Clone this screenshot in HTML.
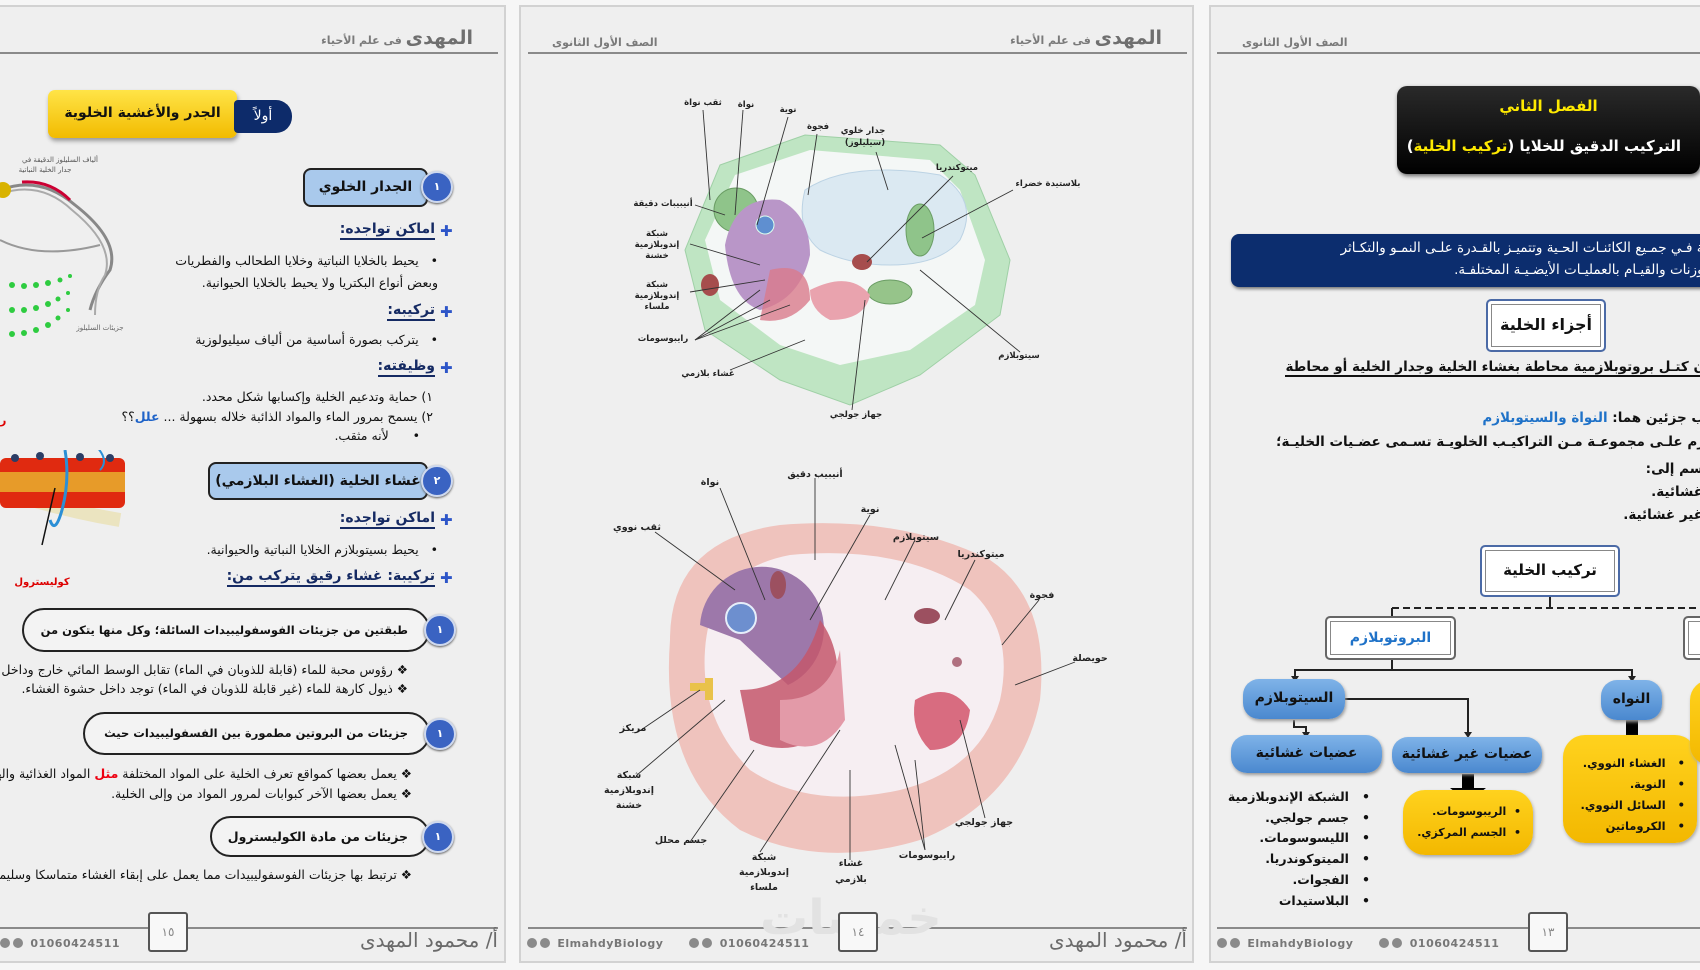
<!DOCTYPE html>
<html lang="ar"><head><meta charset="utf-8">
<style>
*{margin:0;padding:0;box-sizing:border-box}
body{width:1700px;height:970px;overflow:hidden;background:#f6f6f6;position:relative;font-family:"DejaVu Sans","Liberation Sans",sans-serif;color:#111}
.pg{position:absolute;top:5px;height:958px;background:#efefef;border:2px solid #d2d2d2;overflow:hidden}
.a{position:absolute;white-space:nowrap}
.r{direction:rtl;text-align:right}
.hl{position:absolute;height:2px;background:#8a8a8a}
.hd{font-size:11px;color:#7a7a7a;font-weight:bold}
.hd b{font-size:19px;color:#6f6f6f}
.ft{font-size:20px;color:#6a6a6a}
.ph{font-size:11px;color:#777;font-weight:bold;letter-spacing:.5px;direction:ltr}
.ph i{display:inline-block;width:10px;height:10px;border-radius:50%;background:#8a8a8a;margin-right:3px;vertical-align:-1px}
.pn{position:absolute;width:40px;height:40px;border:2px solid #555;background:#f8f8f8;border-radius:3px;font-size:12px;color:#888;text-align:center;line-height:36px}
.bb{position:absolute;background:#a9c9ec;border:2px solid #222;border-radius:8px;font-size:14px;font-weight:bold;text-align:center;direction:rtl;white-space:nowrap}
.cir{position:absolute;width:32px;height:32px;border-radius:50%;background:#3a63c2;border:2px solid #cfd9ee;color:#fff;font-size:11px;text-align:center;line-height:28px;font-weight:bold;box-shadow:0 1px 2px #555}
.hh{font-size:14px;font-weight:bold;color:#152a63;border-bottom:2px solid #152a63;direction:rtl;padding-bottom:1px}
.plus{position:absolute;color:#2d55c8;font-size:15px;font-weight:bold}
.tx{font-size:12.5px;direction:rtl;text-align:right}
.pill{position:absolute;border:2px solid #222;border-radius:24px;background:#f3f3f3;font-size:11.5px;font-weight:bold;direction:rtl;text-align:right;padding-right:20px;white-space:nowrap;overflow:hidden}
.bp{position:absolute;background:linear-gradient(#7fb3e8,#4a88cf);border-radius:16px;color:#111;font-weight:bold;font-size:14px;text-align:center;direction:rtl;box-shadow:1px 2px 3px #999;white-space:nowrap}
.yb{position:absolute;background:linear-gradient(#ffd21e,#f3b800);border-radius:22px;box-shadow:1px 2px 3px #aaa;font-size:11.5px;font-weight:bold;direction:rtl;white-space:nowrap}
.wb{position:absolute;background:#fff;border:2px solid #4b6aa6;border-radius:5px;box-shadow:inset 0 0 0 3px #fff,inset 0 0 0 4px #888;font-weight:bold;text-align:center;direction:rtl;white-space:nowrap}
</style></head><body>

<!-- PAGE 1 -->
<div class="pg" style="left:-10px;width:516px"></div>
<div class="a r hd" style="right:1227px;top:27px"><b>المهدى</b> فى علم الأحياء</div>
<div class="hl" style="left:0;width:498px;top:52px"></div>

<div class="a" style="left:48px;top:90px;width:189px;height:48px;background:linear-gradient(#ffe447,#f2bb00);border-radius:7px;box-shadow:1px 3px 4px #999;font-size:14px;font-weight:bold;text-align:center;line-height:46px;direction:rtl">الجدر والأغشية الخلوية</div>
<div class="a" style="left:234px;top:100px;width:58px;height:33px;background:#0d2b6a;border-radius:4px 16px 16px 4px;color:#fff;font-size:14px;text-align:center;line-height:32px">أولاً</div>

<svg class="a" style="left:0;top:150px" width="130" height="200">
 <text x="60" y="12" font-size="7" fill="#555" text-anchor="middle" font-family="DejaVu Sans">ألياف السليلوز الدقيقة في</text>
 <text x="45" y="22" font-size="7" fill="#555" text-anchor="middle" font-family="DejaVu Sans">جدار الخلية النباتية</text>
 <path d="M0 40 Q40 25 75 55 Q120 90 110 120 Q95 140 90 160" stroke="#888" stroke-width="3" fill="none"/>
 <path d="M0 44 Q40 30 72 60 Q115 95 105 125 Q95 140 95 165" stroke="#aaa" stroke-width="2" fill="none"/>
 <path d="M22 32 Q50 30 70 50" stroke="#c03" stroke-width="3" fill="none"/>
 <path d="M0 90 Q40 110 100 95" stroke="#999" stroke-width="2" fill="none"/>
 <circle cx="3" cy="40" r="8" fill="#d9b300"/>
 <g fill="#2ecc40"><circle cx="12" cy="135" r="3"/><circle cx="24" cy="136" r="3"/><circle cx="36" cy="135" r="3"/><circle cx="48" cy="133" r="3"/><circle cx="60" cy="130" r="2.5"/><circle cx="70" cy="126" r="2"/>
 <circle cx="12" cy="160" r="3"/><circle cx="24" cy="160" r="3"/><circle cx="36" cy="158" r="3"/><circle cx="48" cy="154" r="3"/><circle cx="58" cy="149" r="2.5"/><circle cx="68" cy="143" r="2"/>
 <circle cx="12" cy="184" r="3"/><circle cx="24" cy="183" r="3"/><circle cx="36" cy="180" r="3"/><circle cx="48" cy="175" r="3"/><circle cx="58" cy="168" r="2.5"/><circle cx="68" cy="160" r="2"/></g>
 <text x="100" y="180" font-size="7" fill="#666" text-anchor="middle" font-family="DejaVu Sans">جزيئات السليلوز</text>
</svg>
<div class="a" style="left:0;top:414px;color:#d00;font-size:11px;font-weight:bold">ر</div>
<svg class="a" style="left:0;top:450px" width="135" height="140">
 <path d="M0 40 Q60 60 120 70" stroke="#e8dca0" stroke-width="14" fill="none" opacity=".6"/>
 <rect x="0" y="8" width="125" height="50" rx="6" fill="#e02a10"/>
 <rect x="0" y="22" width="125" height="20" fill="#e8b830" opacity=".8"/>
 <g fill="#2b3d66"><circle cx="15" cy="8" r="4"/><circle cx="40" cy="6" r="4"/><circle cx="80" cy="7" r="4"/><circle cx="110" cy="8" r="4"/></g>
 <path d="M65 0 Q70 30 62 60 Q55 85 50 70" stroke="#2b8fd6" stroke-width="3" fill="none"/>
 <path d="M95 -5 Q110 10 100 20" stroke="#2b8fd6" stroke-width="2" fill="none"/>
 <line x1="55" y1="38" x2="42" y2="95" stroke="#111" stroke-width="1.5"/>
 <text x="42" y="135" font-size="10" fill="#d00" font-weight="bold" text-anchor="middle" font-family="DejaVu Sans">كوليسترول</text>
</svg>

<div class="bb" style="left:303px;top:168px;width:125px;height:39px;line-height:35px">الجدار الخلوي</div>
<div class="cir" style="left:421px;top:171px">١</div>

<div class="plus" style="left:440px;top:222px">✚</div>
<div class="a hh" style="right:1265px;top:221px">اماكن تواجده:</div>
<div class="a tx" style="right:1262px;top:253px">•&nbsp;&nbsp; يحيط بالخلايا النباتية وخلايا الطحالب والفطريات</div>
<div class="a tx" style="right:1262px;top:275px">وبعض أنواع البكتريا ولا يحيط بالخلايا الحيوانية.</div>
<div class="plus" style="left:440px;top:303px">✚</div>
<div class="a hh" style="right:1265px;top:302px">تركيبه:</div>
<div class="a tx" style="right:1262px;top:332px">•&nbsp;&nbsp; يتركب بصورة أساسية من ألياف سيليولوزية</div>
<div class="plus" style="left:440px;top:359px">✚</div>
<div class="a hh" style="right:1265px;top:358px">وظيفته:</div>
<div class="a tx" style="right:1267px;top:389px">١) حماية وتدعيم الخلية وإكسابها شكل محدد.</div>
<div class="a tx" style="right:1267px;top:409px">٢) يسمح بمرور الماء والمواد الذائبة خلاله بسهولة ... <b style="color:#1f63c8">علل</b>؟؟</div>
<div class="a tx" style="right:1280px;top:428px">•&nbsp;&nbsp;&nbsp;&nbsp;&nbsp; لأنه مثقب.</div>

<div class="bb" style="left:208px;top:462px;width:220px;height:38px;line-height:34px">غشاء الخلية (الغشاء البلازمي)</div>
<div class="cir" style="left:421px;top:465px">٢</div>
<div class="plus" style="left:440px;top:511px">✚</div>
<div class="a hh" style="right:1265px;top:510px">اماكن تواجده:</div>
<div class="a tx" style="right:1262px;top:542px">•&nbsp;&nbsp; يحيط بسيتوبلازم الخلايا النباتية والحيوانية.</div>
<div class="plus" style="left:440px;top:569px">✚</div>
<div class="a hh" style="right:1265px;top:568px">تركيبة: غشاء رقيق يتركب من:</div>

<div class="pill" style="left:22px;top:608px;width:408px;height:44px;line-height:40px">طبقتين من جزيئات الفوسفوليبيدات السائلة؛ وكل منها يتكون من</div>
<div class="cir" style="left:424px;top:614px">١</div>
<div class="a tx" style="right:1292px;top:662px">❖ رؤوس محبة للماء (قابلة للذوبان في الماء) تقابل الوسط المائي خارج وداخل</div>
<div class="a tx" style="right:1292px;top:681px">❖ ذيول كارهة للماء (غير قابلة للذوبان في الماء) توجد داخل حشوة الغشاء.</div>
<div class="pill" style="left:83px;top:712px;width:347px;height:43px;line-height:39px">جزيئات من البروتين مطمورة بين الفسفوليبيدات حيث</div>
<div class="cir" style="left:424px;top:718px">١</div>
<div class="a tx" style="right:1288px;top:766px">❖ يعمل بعضها كمواقع تعرف الخلية على المواد المختلفة <b style="color:#e01">مثل</b> المواد الغذائية والهرمونات</div>
<div class="a tx" style="right:1288px;top:786px">❖ يعمل بعضها الآخر كبوابات لمرور المواد من وإلى الخلية.</div>
<div class="pill" style="left:210px;top:816px;width:220px;height:41px;line-height:37px;font-size:12.5px">جزيئات من مادة الكوليسترول</div>
<div class="cir" style="left:422px;top:821px">١</div>
<div class="a tx" style="right:1288px;top:867px">❖ ترتبط بها جزيئات الفوسفوليبيدات مما يعمل على إبقاء الغشاء متماسكا وسليما.</div>

<div class="hl" style="left:0;width:498px;top:927px"></div>
<div class="pn" style="left:148px;top:912px">١٥</div>
<div class="a ft r" style="right:1202px;top:928px">أ/ محمود المهدى</div>
<div class="a ph" style="left:0;top:937px"><i></i><i></i> 01060424511</div>

<!-- PAGE 2 -->
<div class="pg" style="left:519px;width:675px"></div>
<div class="a r hd" style="right:538px;top:27px"><b>المهدى</b> فى علم الأحياء</div>
<div class="a hd" style="left:552px;top:36px;direction:rtl">الصف الأول الثانوى</div>
<div class="hl" style="left:528px;width:659px;top:52px"></div>

<svg class="a" style="left:520px;top:0" width="675" height="970" font-family="DejaVu Sans" font-size="8.5" font-weight="bold">
 <polygon points="200,165 285,135 420,145 455,175 490,260 480,315 400,375 330,405 260,380 185,330 165,250" fill="#bfe5c3" stroke="#9fd0a6"/>
 <polygon points="215,175 290,150 410,160 440,190 465,260 455,305 390,350 320,365 260,345 200,300 185,240" fill="#f4f7f6"/>
 <path d="M285 190 Q330 160 420 175 Q460 200 440 240 Q420 265 370 265 Q330 265 300 250 Q275 230 285 190Z" fill="#dbe9f2" stroke="#bcd3e4"/>
 <circle cx="216" cy="210" r="22" fill="#8fc48a" stroke="#6a9d64"/>
 <ellipse cx="400" cy="230" rx="14" ry="26" fill="#8fc48a" stroke="#6a9d64"/>
 <ellipse cx="370" cy="292" rx="22" ry="12" fill="#96c48a" stroke="#6a9d64"/>
 <path d="M205 245 Q215 195 260 200 Q290 215 290 255 Q280 300 240 310 Q210 300 205 245Z" fill="#b996c8"/>
 <circle cx="245" cy="225" r="9" fill="#5f8fd0" stroke="#dfe"/>
 <path d="M250 270 Q290 260 290 300 Q270 325 240 320 Z" fill="#d97b8c" opacity=".8"/>
 <path d="M290 290 Q330 270 350 295 Q345 320 310 320 Q290 310 290 290Z" fill="#e9a3ae"/>
 <ellipse cx="342" cy="262" rx="10" ry="8" fill="#a64d4d"/>
 <ellipse cx="190" cy="285" rx="9" ry="11" fill="#a64d4d"/>
 <g stroke="#333" stroke-width=".9" fill="none">
  <line x1="183" y1="110" x2="190" y2="200"/><line x1="223" y1="110" x2="215" y2="215"/><line x1="268" y1="117" x2="237" y2="225"/>
  <line x1="297" y1="134" x2="288" y2="195"/><line x1="356" y1="152" x2="368" y2="190"/><line x1="433" y1="176" x2="347" y2="262"/>
  <line x1="493" y1="190" x2="402" y2="238"/><line x1="175" y1="205" x2="205" y2="215"/><line x1="170" y1="244" x2="240" y2="265"/>
  <line x1="170" y1="292" x2="245" y2="280"/><line x1="175" y1="340" x2="240" y2="290"/><line x1="175" y1="340" x2="250" y2="300"/><line x1="175" y1="340" x2="270" y2="305"/>
  <line x1="210" y1="370" x2="285" y2="340"/><line x1="500" y1="352" x2="400" y2="270"/><line x1="332" y1="410" x2="345" y2="300"/>
 </g>
 <g fill="#222" text-anchor="middle">
  <text x="183" y="105">ثقب نواة</text><text x="226" y="107">نواة</text><text x="268" y="112">نوية</text><text x="298" y="129">فجوة</text>
  <text x="343" y="133">جدار خلوي</text><text x="345" y="145">(سيليلوز)</text><text x="437" y="170">ميتوكندريا</text><text x="528" y="186">بلاستيدة خضراء</text>
  <text x="143" y="206">أنيبيبات دقيقة</text><text x="137" y="236">شبكة</text><text x="137" y="247">إندوبلازمية</text><text x="137" y="258">خشنة</text>
  <text x="137" y="287">شبكة</text><text x="137" y="298">إندوبلازمية</text><text x="137" y="309">ملساء</text><text x="143" y="341">رايبوسومات</text>
  <text x="188" y="376">غشاء بلازمي</text><text x="499" y="358">سيتوبلازم</text><text x="336" y="417">جهاز جولجي</text>
 </g>
 <path d="M150 640 Q150 540 260 525 Q380 515 470 560 Q530 600 520 700 Q500 800 400 840 Q300 870 220 830 Q140 770 150 640Z" fill="#efc3bd"/>
 <path d="M185 650 Q190 570 270 555 Q380 545 450 590 Q495 630 480 700 Q460 770 380 790 Q290 810 230 770 Q180 720 185 650Z" fill="#f6eef2"/>
 <path d="M180 625 A62 62 0 1 1 268 685 L220 640Z" fill="#9d78aa"/>
 <circle cx="221" cy="618" r="15" fill="#6d8fcf" stroke="#e6eefa" stroke-width="2"/>
 <path d="M220 690 Q280 690 300 620 Q330 660 310 730 Q270 760 230 740Z" fill="#c4576c" opacity=".85"/>
 <path d="M260 700 Q310 700 320 650 L325 720 Q300 760 260 740Z" fill="#e39aa8"/>
 <path d="M395 700 Q430 680 450 710 Q445 750 410 750 Q390 730 395 700Z" fill="#d86c80"/>
 <ellipse cx="258" cy="585" rx="8" ry="14" fill="#9c5060"/>
 <ellipse cx="407" cy="616" rx="13" ry="8" fill="#9c5060"/>
 <circle cx="437" cy="662" r="5" fill="#b07080"/>
 <rect x="170" y="683" width="15" height="8" fill="#e9c24a"/><rect x="185" y="678" width="8" height="22" fill="#e9c24a"/>
 <g stroke="#333" stroke-width=".9" fill="none">
  <line x1="295" y1="478" x2="295" y2="560"/><line x1="200" y1="488" x2="245" y2="600"/><line x1="350" y1="515" x2="290" y2="620"/>
  <line x1="135" y1="532" x2="215" y2="590"/><line x1="395" y1="540" x2="365" y2="600"/><line x1="455" y1="560" x2="425" y2="620"/>
  <line x1="519" y1="600" x2="482" y2="645"/><line x1="555" y1="662" x2="495" y2="685"/><line x1="118" y1="732" x2="180" y2="690"/>
  <line x1="117" y1="775" x2="205" y2="700"/><line x1="170" y1="842" x2="234" y2="750"/><line x1="240" y1="852" x2="320" y2="730"/>
  <line x1="330" y1="860" x2="330" y2="770"/><line x1="405" y1="850" x2="375" y2="745"/><line x1="405" y1="850" x2="395" y2="760"/><line x1="465" y1="818" x2="440" y2="720"/>
 </g>
 <g fill="#222" text-anchor="middle" font-size="9.5">
  <text x="295" y="477">أنيبيب دقيق</text><text x="190" y="485">نواة</text><text x="350" y="512">نوية</text><text x="117" y="530">ثقب نووي</text>
  <text x="396" y="540">سيتوبلازم</text><text x="461" y="557">ميتوكندريا</text><text x="522" y="598">فجوة</text><text x="570" y="661">حويصلة</text>
  <text x="113" y="731">مريكز</text><text x="109" y="778">شبكة</text><text x="109" y="793">إندوبلازمية</text><text x="109" y="808">خشنة</text>
  <text x="161" y="843">جسم محلل</text><text x="244" y="860">شبكة</text><text x="244" y="875">إندوبلازمية</text><text x="244" y="890">ملساء</text>
  <text x="331" y="866">غشاء</text><text x="331" y="882">بلازمي</text><text x="407" y="858">رايبوسومات</text><text x="464" y="825">جهاز جولجي</text>
 </g>
</svg>

<div class="hl" style="left:528px;width:659px;top:927px"></div>
<div class="a" style="left:760px;top:890px;font-size:48px;color:#e2e2e2;font-weight:bold;direction:rtl">خمسات</div>
<div class="pn" style="left:838px;top:912px">١٤</div>
<div class="a ft r" style="right:513px;top:928px">أ/ محمود المهدى</div>
<div class="a ph" style="left:527px;top:937px"><i></i><i></i> ElmahdyBiology &nbsp;&nbsp;&nbsp;&nbsp; <i></i><i></i> 01060424511</div>

<!-- PAGE 3 -->
<div class="pg" style="left:1209px;width:600px"></div>
<div class="a hd" style="left:1242px;top:36px;direction:rtl">الصف الأول الثانوى</div>
<div class="hl" style="left:1217px;width:483px;top:52px"></div>

<div class="a" style="left:1397px;top:86px;width:303px;height:88px;background:linear-gradient(#2a2a2a,#000);border-radius:10px;box-shadow:1px 2px 4px #666"></div>
<div class="a" style="left:1397px;top:97px;width:303px;text-align:center;color:#ffea00;font-weight:bold;font-size:15px;direction:rtl">الفصل الثاني</div>
<div class="a r" style="right:19px;top:137px;color:#fff;font-size:15px;font-weight:bold">التركيب الدقيق للخلايا (<span style="color:#ffea00">تركيب الخلية</span>)</div>

<div class="a" style="left:1231px;top:234px;width:490px;height:53px;background:#0c2d6e;border-radius:8px;box-shadow:1px 2px 3px #777"></div>
<div class="a r" style="right:-8px;top:240px;color:#fff;font-size:13.5px">ـة فـي جمـيع الكائنـات الحـية وتتميـز بالقـدرة علـى النمـو والتكـاثر</div>
<div class="a r" style="right:-8px;top:262px;color:#fff;font-size:13.5px">ـوزنات والقيـام بالعمليـات الأيضـيـة المختلفـة.</div>

<div class="wb" style="left:1486px;top:299px;width:120px;height:53px;line-height:48px;font-size:16px">أجزاء الخلية</div>
<div class="a r" style="right:-5px;top:359px;font-size:13.5px;font-weight:bold;border-bottom:2px solid #111">ن كتـل بروتوبلازمية محاطة بغشاء الخلية وجدار الخلية أو محاطة</div>
<div class="a r" style="right:-5px;top:410px;font-size:13.5px;font-weight:bold">ب جزئين هما: <span style="color:#1f72c8">النواة والسيتوبلازم</span></div>
<div class="a r" style="right:-5px;top:434px;font-size:13.5px;font-weight:bold">زم علـى مجموعـة مـن التراكيـب الخلويـة تسـمى عضـيات الخليـة؛</div>
<div class="a r" style="right:-3px;top:461px;font-size:13.5px;font-weight:bold">سم إلى:</div>
<div class="a r" style="right:-3px;top:484px;font-size:13.5px;font-weight:bold">غشائية.</div>
<div class="a r" style="right:-3px;top:507px;font-size:13.5px;font-weight:bold">غير غشائية.</div>

<div class="wb" style="left:1480px;top:545px;width:140px;height:52px;line-height:47px;font-size:15px">تركيب الخلية</div>
<svg class="a" style="left:1200px;top:590px" width="500" height="230">
 <line x1="350" y1="7" x2="350" y2="18" stroke="#222" stroke-width="2"/>
 <line x1="192" y1="18" x2="500" y2="18" stroke="#222" stroke-width="2" stroke-dasharray="7,4"/>
 <line x1="192" y1="18" x2="192" y2="26" stroke="#222" stroke-width="2"/>
 <line x1="192" y1="70" x2="192" y2="80" stroke="#222" stroke-width="2"/>
 <polyline points="95,88 95,80 432,80 432,88" stroke="#222" stroke-width="2" fill="none"/>
 <path d="M91 86 L99 86 L95 92Z M428 86 L436 86 L432 92Z" fill="#222"/>
 <polyline points="145,109 268,109 268,145" stroke="#222" stroke-width="2" fill="none"/>
 <path d="M264 142 L272 142 L268 148Z" fill="#222"/>
 <polyline points="94,130 94,137 106,137 106,145" stroke="#222" stroke-width="2" fill="none"/>
 <path d="M102 142 L110 142 L106 148Z" fill="#222"/>
 <rect x="426" y="130" width="12" height="15" fill="#000"/><path d="M414 145 L450 145 L432 160Z" fill="#000"/>
 <rect x="262" y="184" width="12" height="16" fill="#000"/><path d="M250 198 L286 198 L268 212Z" fill="#000"/>
</svg>
<div class="wb" style="left:1325px;top:616px;width:131px;height:44px;line-height:40px;font-size:14px;color:#1f72c8;border-color:#666">البروتوبلازم</div>
<div class="wb" style="left:1683px;top:616px;width:40px;height:44px;border-color:#666"></div>
<div class="bp" style="left:1243px;top:679px;width:102px;height:40px;line-height:38px">السيتوبلازم</div>
<div class="bp" style="left:1601px;top:680px;width:61px;height:40px;line-height:38px">النواه</div>
<div class="bp" style="left:1231px;top:735px;width:151px;height:38px;line-height:36px">عضيات غشائية</div>
<div class="bp" style="left:1392px;top:737px;width:150px;height:36px;line-height:34px">عضيات غير غشائية</div>
<div class="yb" style="left:1403px;top:790px;width:130px;height:65px;padding:11px 12px 0 0;line-height:21px;font-size:11px">
 <div>•&nbsp; الريبوسومات.</div><div>•&nbsp; الجسم المركزي.</div></div>
<div class="yb" style="left:1563px;top:735px;width:134px;height:108px;padding:18px 12px 0 0;line-height:21px">
 <div>•&nbsp;&nbsp; الغشاء النووي.</div><div>•&nbsp;&nbsp; النوية.</div><div>•&nbsp;&nbsp; السائل النووي.</div><div>•&nbsp;&nbsp; الكروماتين</div></div>
<div class="yb" style="left:1690px;top:680px;width:40px;height:85px"></div>
<div class="a r" style="right:330px;top:787px;font-size:12.5px;font-weight:bold;line-height:20.7px">
 <div>•&nbsp;&nbsp; الشبكة الإندوبلازمية</div><div>•&nbsp;&nbsp; جسم جولجي.</div><div>•&nbsp;&nbsp; الليسوسومات.</div><div>•&nbsp;&nbsp; الميتوكوندريا.</div><div>•&nbsp;&nbsp; الفجوات.</div><div>•&nbsp;&nbsp; البلاستيدات</div></div>

<div class="hl" style="left:1217px;width:483px;top:927px"></div>
<div class="pn" style="left:1528px;top:912px">١٣</div>
<div class="a ph" style="left:1217px;top:937px"><i></i><i></i> ElmahdyBiology &nbsp;&nbsp;&nbsp;&nbsp; <i></i><i></i> 01060424511</div>
</body></html>
